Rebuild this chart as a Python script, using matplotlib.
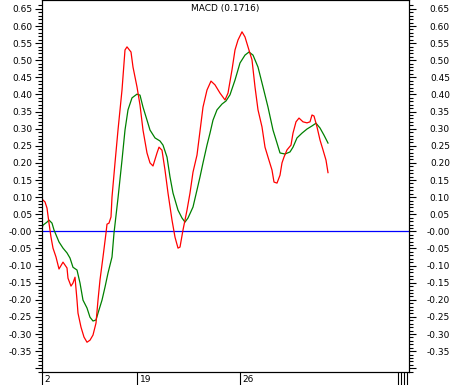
import matplotlib
matplotlib.use("Agg")
import matplotlib.pyplot as plt
import numpy as np

# MACD line (red): bar position, value
macd_x = [0, 3, 5, 7, 9, 11, 14, 17, 21, 25, 26, 29, 31, 33, 35, 36, 39, 42, 45,
          48, 51, 54, 56, 58, 61, 64, 65, 67, 69, 70, 73, 76, 80, 83, 85, 89, 91,
          95, 98, 101, 105, 108, 111, 115, 117, 120, 123, 126, 130, 133, 136, 138,
          141, 145, 148, 151, 155, 158, 161, 165, 169, 173, 178, 183, 186, 190,
          193, 196, 200, 203, 206, 210, 213, 216, 220, 223, 226, 230, 232, 235,
          238, 240, 242, 245, 249, 251, 254, 257, 261, 265, 268, 270, 272, 275,
          278, 281, 284, 286]
macd_y = [0.094, 0.086, 0.068, 0.024, -0.017, -0.049, -0.075, -0.110, -0.090,
          -0.107, -0.137, -0.160, -0.151, -0.134, -0.201, -0.239, -0.280, -0.309,
          -0.324, -0.318, -0.303, -0.268, -0.201, -0.142, -0.075, -0.005, 0.021,
          0.024, 0.042, 0.100, 0.200, 0.296, 0.413, 0.530, 0.539, 0.524, 0.480,
          0.422, 0.369, 0.296, 0.229, 0.200, 0.191, 0.229, 0.246, 0.237, 0.179,
          0.112, 0.033, -0.017, -0.049, -0.046, 0.004, 0.062, 0.112, 0.173, 0.223,
          0.293, 0.363, 0.413, 0.439, 0.428, 0.404, 0.384, 0.404, 0.472, 0.530,
          0.559, 0.583, 0.568, 0.539, 0.501, 0.422, 0.355, 0.305, 0.246, 0.217,
          0.179, 0.144, 0.141, 0.164, 0.200, 0.217, 0.238, 0.252, 0.287, 0.320,
          0.331, 0.320, 0.317, 0.320, 0.340, 0.337, 0.305, 0.267, 0.238, 0.208,
          0.1716]

# signal line (green)
signal_x = [0, 1, 5, 7, 10, 12, 15, 17, 21, 25, 28, 31, 35, 38, 41, 45, 48, 51,
            54, 56, 60, 63, 66, 70, 72, 76, 80, 83, 86, 90, 95, 98, 101, 105, 108,
            113, 118, 121, 125, 128, 131, 136, 140, 143, 146, 151, 155, 158, 161,
            165, 168, 171, 175, 180, 184, 188, 193, 198, 203, 207, 211, 216, 221,
            226, 231, 235, 238, 243, 248, 251, 255, 260, 265, 270, 274, 278, 282,
            286]
signal_y = [0.010, 0.018, 0.027, 0.033, 0.024, 0.004, -0.017, -0.031, -0.049,
            -0.063, -0.078, -0.105, -0.113, -0.151, -0.201, -0.224, -0.251, -0.262,
            -0.259, -0.239, -0.201, -0.163, -0.122, -0.075, -0.005, 0.097, 0.208,
            0.296, 0.355, 0.390, 0.401, 0.398, 0.363, 0.325, 0.296, 0.273, 0.264,
            0.252, 0.217, 0.159, 0.112, 0.062, 0.039, 0.027, 0.039, 0.071, 0.121,
            0.159, 0.200, 0.252, 0.287, 0.325, 0.355, 0.372, 0.381, 0.399, 0.442,
            0.492, 0.515, 0.524, 0.515, 0.480, 0.422, 0.363, 0.296, 0.258, 0.229,
            0.226, 0.232, 0.246, 0.273, 0.287, 0.299, 0.308, 0.316, 0.302, 0.281,
            0.258]

date_ticks = [0, 95, 198]
date_labels = ["2", "19", "26"]
end_ticks = [356, 359, 362, 365]

last_value = 0.1716

fig = plt.figure(figsize=(4.51, 3.85), dpi=100)
ax = fig.add_axes([42 / 451, 13 / 385, 367 / 451, 372 / 385])

ax.axhline(0, color="#0000ff", lw=0.9)
ax.plot(signal_x, signal_y, color="#008000", lw=0.9)
ax.plot(macd_x, macd_y, color="#ff0000", lw=0.9)

ax.set_xlim(0, 367)
ylim = (-0.411, 0.676)
ax.set_ylim(*ylim)

# y axis, same scale on both sides
majors = np.round(np.arange(-0.40, 0.651, 0.05), 2)
minors = np.round(np.arange(-0.41, 0.67, 0.01), 2)
labels = ["" if v < -0.375 else f"{v:.2f}" for v in majors]

ax2 = ax.twinx()
ax2.set_ylim(*ylim)
for a, pad in ((ax, 2), (ax2, 24.5)):
    a.set_yticks(majors)
    a.set_yticklabels(labels)
    a.set_yticks(minors, minor=True)
    a.tick_params(axis="y", which="major", direction="out", length=5,
                  width=0.8, labelsize=6.5, pad=pad)
    a.tick_params(axis="y", which="minor", direction="out", length=3, width=0.8)
# right-hand labels are right aligned against the figure edge
for lab in ax2.get_yticklabels():
    lab.set_horizontalalignment("right")

# x axis: long tick lines, labels to the right of them
ax.set_xticks(date_ticks + end_ticks)
ax.set_xticklabels([])
ax.tick_params(axis="x", direction="out", length=13, width=0.8)
for xv, lab in zip(date_ticks, date_labels):
    ax.annotate(lab, xy=(xv, 0), xycoords=("data", "axes fraction"),
                xytext=(2, -2), textcoords="offset points",
                ha="left", va="top", fontsize=6.5)

for a in (ax, ax2):
    for s in a.spines.values():
        s.set_linewidth(0.8)

ax.text(0.5, 1 - 9 / 372, f"MACD ({last_value})", transform=ax.transAxes,
        ha="center", va="center", fontsize=6.5)

fig.savefig("out.png", dpi=100)
